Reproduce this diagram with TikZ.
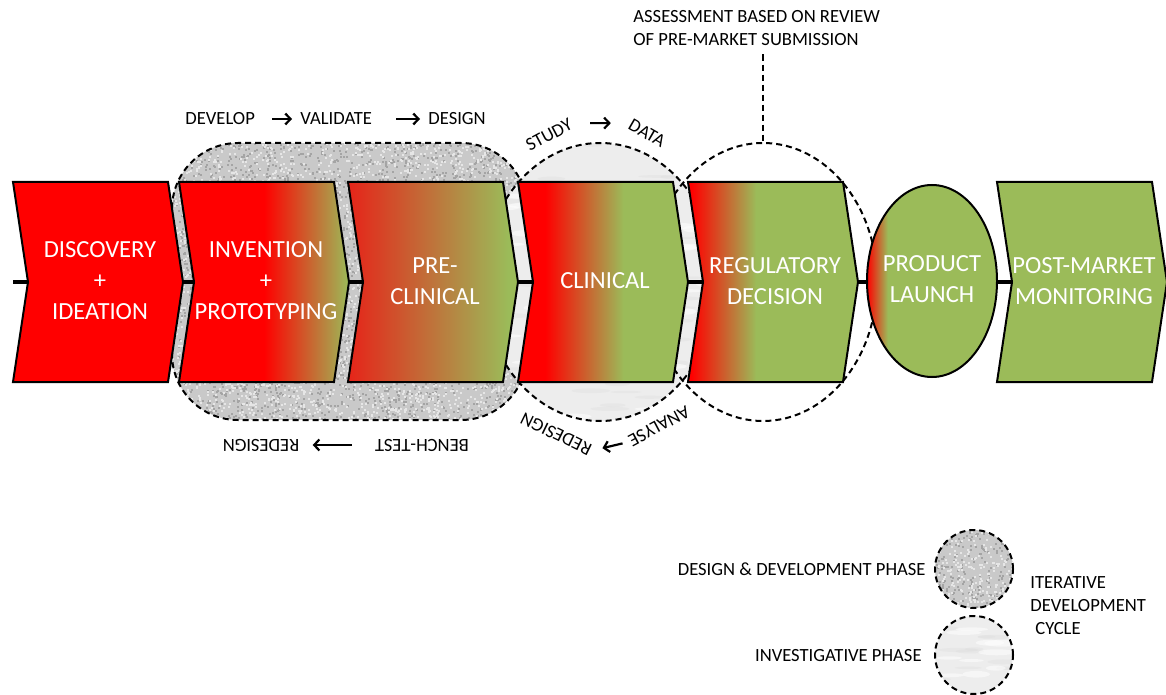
\documentclass[tikz,border=0pt]{standalone}
\usepackage{fontspec}
\setmainfont{Carlito}
\usetikzlibrary{arrows.meta,shapes.geometric}

\definecolor{pred}{HTML}{FF0000}
\definecolor{predB}{HTML}{E62419}
\definecolor{pgreen}{HTML}{9BBB59}
\definecolor{granite}{HTML}{C9C9C9}
\definecolor{graniteDark}{HTML}{A4A4A4}
\definecolor{graniteLight}{HTML}{E6E6E6}
\definecolor{marble}{HTML}{EDEDED}
\definecolor{marbleVein}{HTML}{DCDCDC}

% horizontal colour ramps; 25bp..75bp spans the shaded shape
\pgfdeclarehorizontalshading{shInvention}{100bp}{color(0bp)=(pred); color(50bp)=(pred); color(75bp)=(pgreen); color(100bp)=(pgreen)}
\pgfdeclarehorizontalshading{shPreclinical}{100bp}{color(0bp)=(predB); color(25bp)=(predB); color(72bp)=(pgreen); color(100bp)=(pgreen)}
\pgfdeclarehorizontalshading{shClinical}{100bp}{color(0bp)=(pred); color(33bp)=(pred); color(56bp)=(pgreen); color(100bp)=(pgreen)}
\pgfdeclarehorizontalshading{shRegulatory}{100bp}{color(0bp)=(pred); color(26bp)=(pred); color(45bp)=(pgreen); color(100bp)=(pgreen)}
\pgfdeclarehorizontalshading{shLaunch}{100bp}{color(0bp)=(pred); color(25bp)=(pred); color(33bp)=(pgreen); color(100bp)=(pgreen)}

\tikzset{
  phaseshape/.style={draw=black, line width=1pt, line join=miter},
  phasetext/.style={text=white, align=center, inner sep=0pt,
    font=\fontsize{12.3}{15.5}\selectfont},
  lbl/.style={inner sep=0pt, font=\fontsize{9.3}{11.5}\selectfont},
  cycleline/.style={draw=black, line width=1pt, dash pattern=on 3pt off 2pt},
  flowarrow/.style={line width=1.1pt, -{Straight Barb[length=2.6pt,width=5.5pt]}},
  spine/.style={line width=1.6pt, black},
}

% one chevron of the process chain: left edge, paint, name, label
\newcommand\phasebox[4]{%
  \path[phaseshape,#2] (#1,182) -- ++(155,0) -- ++(15,100) -- ++(-15,100)
    -- ++(-155,0) -- ++(15,-100) -- cycle;
  \node[phasetext] (#3) at (#1+87,281) {#4};
}

% speckled stone texture inside the current clip (small square grains)
\newcommand\granitefill[5]{% x0, y0, width, height, grain count
  \fill[granite] (#1,#2) rectangle ++(#3,#4);
  \foreach \k in {1,...,#5}{\fill[graniteDark] (#1+#3*rnd,#2+#4*rnd) rectangle ++(2,2);}
  \foreach \k in {1,...,#5}{\fill[graniteLight] (#1+#3*rnd,#2+#4*rnd) rectangle ++(2,2);}
}
% pale marble texture inside the current clip
\newcommand\marblefill[5]{%
  \fill[marble] (#1,#2) rectangle ++(#3,#4);
  \foreach \k in {1,...,#5}{\fill[marbleVein, opacity=0.35]
    (#1+#3*rnd,#2+#4*rnd) ellipse[x radius=8+12*rnd, y radius=1+1.5*rnd];}
  \foreach \k in {1,...,#5}{\fill[white, opacity=0.5]
    (#1+#3*rnd,#2+#4*rnd) ellipse[x radius=8+12*rnd, y radius=1.5+2*rnd];}
}

\begin{document}
\begin{tikzpicture}[x=0.5pt, y=-0.5pt]
\useasboundingbox (0,0) rectangle (1166,695);
\pgfmathsetseed{4242}

% design & development cycle (rounded band)
\begin{scope}
  \clip[rounded corners=33pt] (172,143) rectangle (527,420);
  \granitefill{172}{143}{355}{277}{3400}
\end{scope}
\node[cycleline, rectangle, rounded corners=33pt, minimum width=177.5pt,
  minimum height=138.5pt, inner sep=0pt] (ddcycle) at (349.5,281.5) {};

% investigative cycle
\begin{scope}
  \clip (600,282) ellipse[x radius=117, y radius=139];
  \marblefill{483}{143}{234}{278}{60}
\end{scope}
\node[cycleline, ellipse, minimum width=117pt, minimum height=139pt,
  inner sep=0pt] (clincycle) at (600,282) {};

% regulatory review cycle
\node[cycleline, ellipse, minimum width=114pt, minimum height=139pt,
  inner sep=0pt] (regcycle) at (763,282) {};

% process spine
\coordinate (spineStart) at (13,282);
\coordinate (spineEnd) at (1012,282);
\draw[spine] (spineStart) -- (spineEnd);

% phases
\phasebox{13}{fill=pred}{discovery}{DISCOVERY\\+\\IDEATION}
\phasebox{179}{shade, shading=shInvention}{invention}{INVENTION\\+\\PROTOTYPING}
\phasebox{348}{shade, shading=shPreclinical}{preclinical}{PRE-\\CLINICAL}
\phasebox{518}{shade, shading=shClinical}{clinical}{CLINICAL}
\phasebox{688}{shade, shading=shRegulatory}{regulatory}{REGULATORY\\DECISION}
\node[ellipse, draw=black, line width=1pt, shade, shading=shLaunch,
  minimum width=65pt, minimum height=96pt, inner sep=0pt] (launchshape) at (932,281) {};
\node[phasetext] (launch) at (932,279) {PRODUCT\\LAUNCH};
\phasebox{997}{fill=pgreen}{postmarket}{POST-MARKET\\MONITORING}

% regulatory assessment note
\node[lbl, anchor=west, align=left] (assess) at (633,28.5)
  {ASSESSMENT BASED ON REVIEW\\OF PRE-MARKET SUBMISSION};
\draw[cycleline, shorten <=4pt] (assess.south -| regcycle.north) -- (regcycle.north);

% design & development loop labels
\node[lbl, anchor=west] (develop) at (185,119) {DEVELOP};
\node[lbl, anchor=west] (validate) at (300,119) {VALIDATE};
\node[lbl, anchor=west] (design) at (428,119) {DESIGN};
\draw[flowarrow, shorten <=8.5pt, shorten >=4pt] (develop) -- (validate);
\draw[flowarrow, shorten <=12pt, shorten >=4pt] (validate) -- (design);
\node[lbl, rotate=180] (benchtest) at (422,445) {BENCH-TEST};
\node[lbl, rotate=180] (redesignA) at (261,445) {REDESIGN};
\draw[flowarrow, shorten <=11.5pt, shorten >=6.5pt] (benchtest) -- (redesignA);

% investigative loop labels
\node[lbl, rotate=28] (study) at (549,135) {STUDY};
\node[lbl, rotate=-30] (data) at (647,133) {DATA};
\draw[flowarrow, shorten <=9.5pt, shorten >=9.5pt] (study.east) -- (data.west);
\node[lbl, rotate=208] (analyse) at (659,426) {ANALYSE};
\node[lbl, rotate=154] (redesignB) at (556,434) {REDESIGN};
\draw[flowarrow, shorten <=3.5pt, shorten >=6pt] (analyse.east) -- (redesignB.west);

% legend
\begin{scope}
  \clip (974,569) circle[radius=39];
  \granitefill{935}{530}{78}{78}{210}
\end{scope}
\node[cycleline, circle, minimum size=39pt, inner sep=0pt] (legendDD) at (974,569) {};
\begin{scope}
  \clip (974,655) circle[radius=39];
  \marblefill{935}{616}{78}{78}{10}
\end{scope}
\node[cycleline, circle, minimum size=39pt, inner sep=0pt] (legendInv) at (974,655) {};
\node[lbl, anchor=east] (legendDDtext) at (926,569) {DESIGN \& DEVELOPMENT PHASE};
\node[lbl, anchor=east] (legendInvtext) at (922,656) {INVESTIGATIVE PHASE};
\node[lbl, anchor=west, align=left] (legendCycle) at (1030,606)
  {ITERATIVE\\DEVELOPMENT\\\hspace*{2.5pt}CYCLE};
\end{tikzpicture}
\end{document}
